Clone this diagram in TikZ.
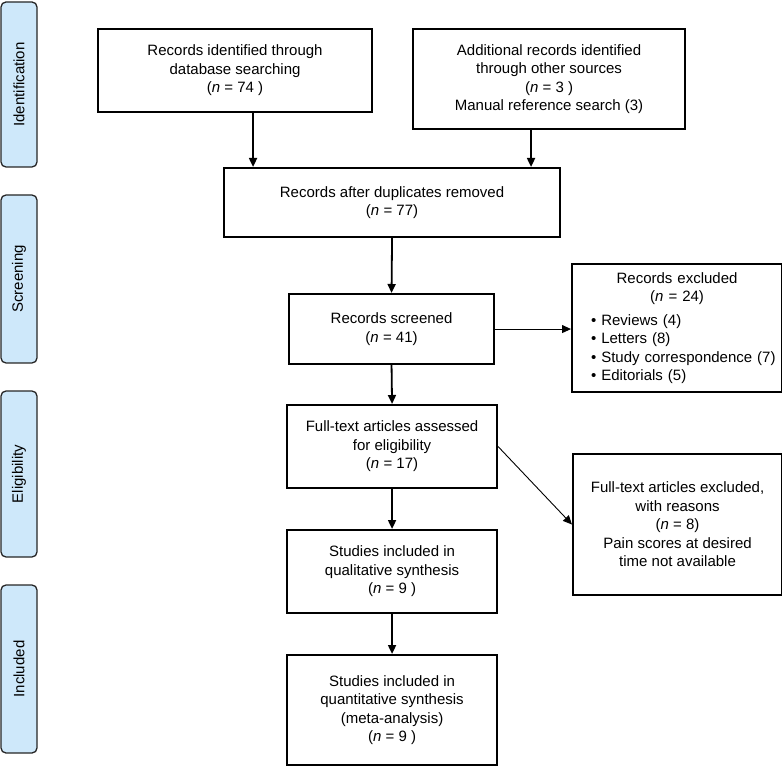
\documentclass[tikz,border=0pt]{standalone}
\usepackage{fontspec}
\setmainfont{Liberation Sans}
\usetikzlibrary{arrows.meta,positioning}
\definecolor{tabblue}{RGB}{206,232,250}

\begin{document}
\begin{tikzpicture}[x=1pt,y=-1pt,font=\fontsize{15}{18.5}\selectfont,
    box/.style={draw,line width=2.1pt,align=center,inner sep=0pt,anchor=north west},
    stage/.style={draw=black!85,line width=1.3pt,fill=tabblue,rounded corners=5pt,rotate=90,minimum height=36pt,inner sep=0pt},
    arr/.style={-{Triangle[length=9pt,width=8pt]},line width=1.8pt},
    thinarr/.style={-{Triangle[length=9pt,width=8pt]},line width=0.9pt}]
    \useasboundingbox (0,0) rectangle (782,767);

    % stage tabs
    \node [stage,minimum width=165pt] (identification) at (19,84.5) {Identification};
    \node [stage,minimum width=168pt] (screening) at (19,279) {Screening};
    \node [stage,minimum width=166pt] (eligibility) at (19,474) {Eligibility};
    \node [stage,minimum width=168pt] (included) at (19,669) {Included};

    % flow boxes
    \node [box,minimum width=274pt,minimum height=83pt] (dbsearch) at (97,28) {Records identified through\\database searching\\(\textit{n} = 74 )};
    \node [box,minimum width=272pt,minimum height=100pt] (othersrc) at (412,28) {Additional records identified\\through other sources\\(\textit{n} = 3 )\\Manual reference search (3)};
    \node [box,minimum width=336pt,minimum height=69pt] (dedup) at (223,167) {Records after duplicates removed\\(\textit{n} = 77)};
    \node [box,minimum width=205pt,minimum height=70pt] (screened) at (288,293) {Records screened\\(\textit{n} = 41)};
    \node [box,minimum width=210pt,minimum height=128pt,align=left,text width=196pt] (excluded) at (571,263) {%
        {\centering Records excluded\\(\textit{n} = 24)\par}\vspace{5pt}%
        {\leftskip=12pt \mbox{\textbullet\ Reviews (4)}\\\mbox{\textbullet\ Letters (8)}\\\mbox{\textbullet\ Study correspondence (7)}\\\mbox{\textbullet\ Editorials (5)}\par}};
    \node [box,minimum width=210pt,minimum height=83pt] (fulltext) at (286,404) {Full-text articles assessed\\for eligibility\\(\textit{n} = 17)};
    \node [box,minimum width=209pt,minimum height=141pt] (ftexcluded) at (572,453) {Full-text articles excluded,\\with reasons\\(\textit{n} = 8)\\Pain scores at desired\\time not available};
    \node [box,minimum width=210pt,minimum height=83pt] (qualit) at (286,529) {Studies included in\\qualitative synthesis\\(\textit{n} = 9 )};
    \node [box,minimum width=210pt,minimum height=110pt] (quantit) at (286,654) {Studies included in\\quantitative synthesis\\(meta-analysis)\\(\textit{n} = 9 )};

    % connectors
    \draw [arr] ([xshift=18pt]dbsearch.south) -- ([xshift=18pt]dbsearch.south |- dedup.north);
    \draw [arr] ([xshift=-18pt]othersrc.south) -- ([xshift=-18pt]othersrc.south |- dedup.north);
    \draw [arr] (dedup.south) -- (screened.north);
    \draw [thinarr] (screened.east) -- (screened.east -| excluded.west);
    \draw [arr] (screened.south) -- (fulltext.north);
    \draw [thinarr] (fulltext.east) -- (ftexcluded.west);
    \draw [arr] (fulltext.south) -- (qualit.north);
    \draw [arr] (qualit.south) -- (quantit.north);
\end{tikzpicture}
\end{document}
